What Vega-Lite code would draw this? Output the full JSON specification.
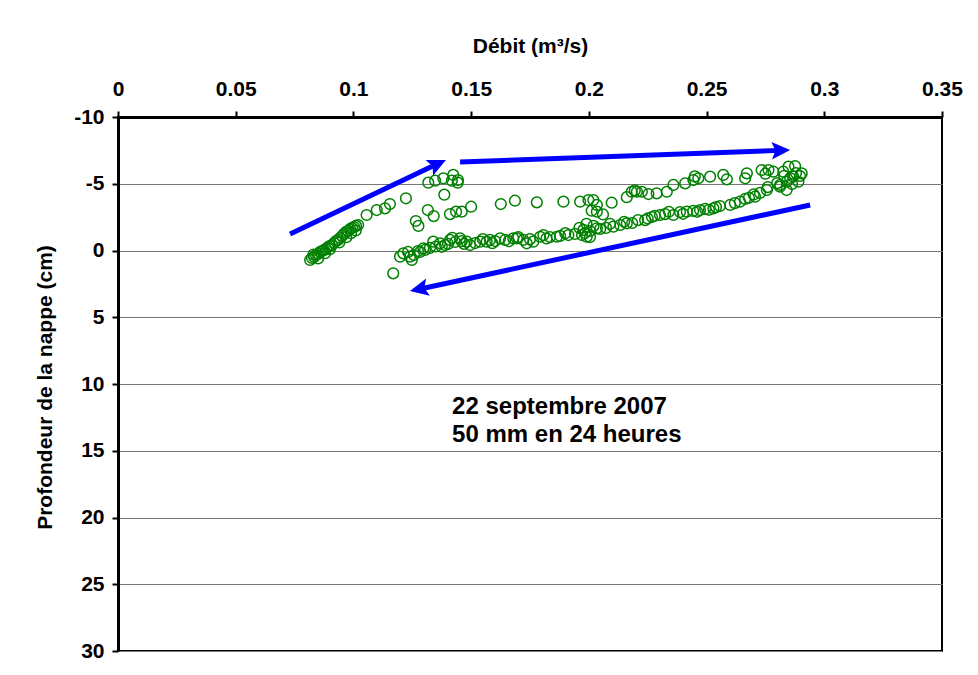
{
  "$schema": "https://vega.github.io/schema/vega-lite/v6.json",
  "width": 824,
  "height": 534,
  "autosize": {"type": "none"},
  "padding": {"left": 118, "top": 117, "right": 36, "bottom": 24},
  "background": "white",
  "config": {
    "font": "Liberation Sans",
    "view": {"stroke": "black", "strokeWidth": 2}
  },
  "datasets": {
    "obs": [
      {"q":0.0816,"p":0.71},{"q":0.0824,"p":0.56},{"q":0.0833,"p":0.49},{"q":0.0841,"p":0.34},{"q":0.0850,"p":0.26},{"q":0.0858,"p":0.11},{"q":0.0867,"p":0.04},{"q":0.0875,"p":-0.04},{"q":0.0884,"p":-0.11},{"q":0.0892,"p":-0.26},{"q":0.0901,"p":-0.34},{"q":0.0909,"p":-0.41},{"q":0.0918,"p":-0.56},{"q":0.0926,"p":-0.71},{"q":0.0935,"p":-0.79},{"q":0.0943,"p":-0.94},{"q":0.0952,"p":-1.09},{"q":0.0960,"p":-1.24},{"q":0.0969,"p":-1.39},{"q":0.0977,"p":-1.46},{"q":0.0986,"p":-1.61},{"q":0.0994,"p":-1.69},{"q":0.1003,"p":-1.76},{"q":0.1011,"p":-1.84},{"q":0.1020,"p":-1.91},
      {"q":0.083,"p":0.3},{"q":0.085,"p":0.6},{"q":0.088,"p":0.2},{"q":0.090,"p":-0.1},{"q":0.094,"p":-0.6},{"q":0.097,"p":-1.0},{"q":0.099,"p":-1.3},{"q":0.101,"p":-1.5},
      {"q":0.1056,"p":-2.66},{"q":0.1099,"p":-3.03},{"q":0.1134,"p":-3.16},{"q":0.1155,"p":-3.48},{"q":0.1223,"p":-3.91},
      {"q":0.1318,"p":-5.08},{"q":0.1347,"p":-5.23},{"q":0.1382,"p":-5.41},{"q":0.1424,"p":-5.66},{"q":0.1443,"p":-5.08},{"q":0.1418,"p":-5.23},{"q":0.1444,"p":-5.28},{"q":0.1386,"p":-4.18},
      {"q":0.1316,"p":-3.03},{"q":0.1341,"p":-2.58},{"q":0.1265,"p":-2.21},{"q":0.1276,"p":-1.84},{"q":0.1410,"p":-2.73},{"q":0.1436,"p":-2.91},{"q":0.1460,"p":-2.91},{"q":0.1500,"p":-3.28},{"q":0.1626,"p":-3.48},{"q":0.1686,"p":-3.73},{"q":0.1779,"p":-3.61},{"q":0.1892,"p":-3.66},{"q":0.1963,"p":-3.66},{"q":0.1998,"p":-3.78},{"q":0.2019,"p":-3.78},{"q":0.2034,"p":-3.41},{"q":0.2012,"p":-2.98},{"q":0.2034,"p":-2.91},{"q":0.2060,"p":-2.70},{"q":0.2097,"p":-3.58},{"q":0.2161,"p":-3.99},{"q":0.2182,"p":-4.40},{"q":0.2204,"p":-4.40},{"q":0.2225,"p":-4.40},{"q":0.2195,"p":-4.50},{"q":0.2253,"p":-4.23},{"q":0.2288,"p":-4.28},{"q":0.2331,"p":-4.40},{"q":0.2359,"p":-4.91},{"q":0.2409,"p":-5.03},{"q":0.2444,"p":-5.28},{"q":0.2465,"p":-5.41},{"q":0.2450,"p":-5.55},{"q":0.2515,"p":-5.53},{"q":0.2571,"p":-5.66},{"q":0.2586,"p":-5.33},{"q":0.2664,"p":-5.41},{"q":0.2671,"p":-5.78},{"q":0.2734,"p":-6.03},{"q":0.2763,"p":-6.03},{"q":0.2784,"p":-5.90},{"q":0.2750,"p":-5.75},{"q":0.2826,"p":-5.90},{"q":0.2848,"p":-6.28},{"q":0.2876,"p":-6.33},{"q":0.2904,"p":-5.78},{"q":0.2868,"p":-5.53},{"q":0.2840,"p":-5.15},{"q":0.2890,"p":-5.15},{"q":0.2812,"p":-4.78},{"q":0.2840,"p":-4.53},{"q":0.2855,"p":-5.43},{"q":0.2897,"p":-5.58},{"q":0.2863,"p":-4.98},{"q":0.2880,"p":-5.80},{"q":0.2830,"p":-5.60},
      {"q":0.2812,"p":-4.91},{"q":0.2756,"p":-4.53},{"q":0.2727,"p":-4.31},{"q":0.2706,"p":-4.03},{"q":0.2664,"p":-3.86},{"q":0.2642,"p":-3.66},{"q":0.2600,"p":-3.41},{"q":0.2557,"p":-3.33},{"q":0.2529,"p":-3.16},{"q":0.2494,"p":-3.11},{"q":0.2472,"p":-3.03},{"q":0.2443,"p":-2.96},{"q":0.2416,"p":-2.91},{"q":0.2387,"p":-2.88},{"q":0.2359,"p":-2.66},{"q":0.2324,"p":-2.73},{"q":0.2302,"p":-2.66},{"q":0.2268,"p":-2.51},{"q":0.2239,"p":-2.28},{"q":0.2209,"p":-2.28},{"q":0.2184,"p":-2.06},{"q":0.2161,"p":-2.04},{"q":0.2133,"p":-1.91},{"q":0.2104,"p":-1.78},{"q":0.2073,"p":-1.69},{"q":0.2048,"p":-1.61},{"q":0.2034,"p":-1.66},{"q":0.2005,"p":-1.46},{"q":0.1991,"p":-1.03},{"q":0.1977,"p":-1.54},{"q":0.1984,"p":-1.31},{"q":0.1971,"p":-1.16},{"q":0.2005,"p":-1.01},{"q":0.1941,"p":-1.24},{"q":0.1913,"p":-1.16},{"q":0.1878,"p":-1.09},{"q":0.1864,"p":-1.03},{"q":0.1835,"p":-1.01},{"q":0.1807,"p":-1.16},{"q":0.1793,"p":-1.03},{"q":0.1764,"p":-0.66},{"q":0.1736,"p":-0.54},{"q":0.1722,"p":-0.79},{"q":0.1694,"p":-0.91},{"q":0.1679,"p":-0.91},{"q":0.1644,"p":-0.79},{"q":0.1623,"p":-0.91},{"q":0.1602,"p":-0.71},{"q":0.1580,"p":-0.79},{"q":0.1566,"p":-0.66},{"q":0.1538,"p":-0.66},{"q":0.1517,"p":-0.56},{"q":0.1495,"p":-0.41},{"q":0.1481,"p":-0.66},{"q":0.1453,"p":-0.91},{"q":0.1460,"p":-0.70},{"q":0.1432,"p":-0.64},{"q":0.1410,"p":-0.79},{"q":0.1389,"p":-0.41},{"q":0.1368,"p":-0.54},{"q":0.1375,"p":-0.28},{"q":0.1339,"p":-0.66},{"q":0.1325,"p":-0.19},{"q":0.1297,"p":-0.16},{"q":0.1274,"p":0.04},{"q":0.1248,"p":0.71},{"q":0.1240,"p":0.46},{"q":0.1232,"p":0.11},{"q":0.1212,"p":0.21},{"q":0.1198,"p":0.46},{"q":0.1257,"p":0.34},{"q":0.1283,"p":0.11},{"q":0.1304,"p":-0.04},{"q":0.1169,"p":1.71},
      {"q":0.1402,"p":-0.49},{"q":0.1350,"p":-0.30},{"q":0.1420,"p":-0.95},{"q":0.1470,"p":-0.50},{"q":0.1550,"p":-0.85},{"q":0.1590,"p":-0.55},{"q":0.1660,"p":-0.70},{"q":0.1700,"p":-1.00},{"q":0.1750,"p":-0.85},{"q":0.1820,"p":-0.90},{"q":0.1900,"p":-1.30},{"q":0.1960,"p":-1.70},{"q":0.1990,"p":-2.00},{"q":0.2020,"p":-1.85},{"q":0.2090,"p":-2.00},{"q":0.2150,"p":-2.15},{"q":0.2250,"p":-2.40},{"q":0.2280,"p":-2.60},{"q":0.2340,"p":-2.90},{"q":0.2400,"p":-2.75},{"q":0.2460,"p":-2.90},{"q":0.2510,"p":-3.05},{"q":0.2540,"p":-3.25},{"q":0.2620,"p":-3.55},{"q":0.2680,"p":-3.95},{"q":0.2700,"p":-4.20},{"q":0.2760,"p":-4.75},{"q":0.2800,"p":-5.05}
    ],
    "arrows": [
      {"id":"a1","q":0.0731,"p":-1.24,"q2":0.1355,"p2":-6.48},
      {"id":"a2","q":0.1453,"p":-6.63,"q2":0.2812,"p2":-7.50},
      {"id":"a3","q":0.2940,"p":-3.41,"q2":0.1283,"p2":2.88}
    ],
    "heads": [
      {"id":"a1","q":0.1393,"p":-6.78},
      {"id":"a2","q":0.2855,"p":-7.53},
      {"id":"a3","q":0.1240,"p":3.03}
    ],
    "note": [
      {"q":0.1419,"p":11.72,"t":"22 septembre 2007"},
      {"q":0.1419,"p":13.82,"t":"50 mm en 24 heures"}
    ]
  },
  "encoding": {
    "x": {
      "field": "q", "type": "quantitative",
      "scale": {"domain": [0, 0.35], "nice": false, "zero": false},
      "axis": {
        "orient": "top",
        "title": "Débit (m³/s)",
        "values": [0, 0.05, 0.1, 0.15, 0.2, 0.25, 0.3, 0.35],
        "format": "~g",
        "grid": false,
        "domainColor": "black", "domainWidth": 3,
        "tickColor": "black", "tickWidth": 2, "tickSize": 6,
        "labelFont": "Liberation Sans", "labelFontWeight": "bold", "labelFontSize": 21, "labelColor": "black",
        "labelPadding": 12, "labelFlush": false,
        "titleFont": "Liberation Sans", "titleFontWeight": "bold", "titleFontSize": 21, "titleColor": "black",
        "titleY": -71, "titleBaseline": "middle"
      }
    },
    "y": {
      "field": "p", "type": "quantitative",
      "scale": {"domain": [-10, 30], "reverse": true, "nice": false, "zero": false},
      "axis": {
        "orient": "left",
        "title": "Profondeur de la nappe (cm)",
        "values": [-10, -5, 0, 5, 10, 15, 20, 25, 30],
        "labelExpr": "replace(datum.label, '−', '-')",
        "grid": true, "gridColor": "#777777", "gridWidth": 1,
        "domainColor": "black", "domainWidth": 3,
        "tickColor": "black", "tickWidth": 2, "tickSize": 6,
        "labelFont": "Liberation Sans", "labelFontWeight": "bold", "labelFontSize": 21, "labelColor": "black",
        "labelPadding": 8, "labelFlush": false,
        "titleFont": "Liberation Sans", "titleFontWeight": "bold", "titleFontSize": 21, "titleColor": "black",
        "titleX": -73, "titleY": 270, "titleBaseline": "middle"
      }
    }
  },
  "layer": [
    {
      "data": {"name": "obs"},
      "mark": {"type": "point", "shape": "circle", "filled": false, "stroke": "#008000", "strokeWidth": 1.5, "size": 115, "opacity": 1}
    },
    {
      "data": {"name": "arrows"},
      "mark": {"type": "rule", "stroke": "#0000FF", "strokeWidth": 5},
      "encoding": {
        "x2": {"field": "q2"},
        "y2": {"field": "p2"}
      }
    },
    {
      "data": {"name": "heads"},
      "transform": [{"filter": "datum.id == 'a1'"}],
      "mark": {"type": "point", "shape": "M0,0L-2,-0.95L-1.6,0L-2,0.95Z", "filled": true, "fill": "#0000FF", "strokeWidth": 0, "size": 340, "angle": 334.6, "opacity": 1}
    },
    {
      "data": {"name": "heads"},
      "transform": [{"filter": "datum.id == 'a2'"}],
      "mark": {"type": "point", "shape": "M0,0L-2,-0.95L-1.6,0L-2,0.95Z", "filled": true, "fill": "#0000FF", "strokeWidth": 0, "size": 340, "angle": 357.9, "opacity": 1}
    },
    {
      "data": {"name": "heads"},
      "transform": [{"filter": "datum.id == 'a3'"}],
      "mark": {"type": "point", "shape": "M0,0L-2,-0.95L-1.6,0L-2,0.95Z", "filled": true, "fill": "#0000FF", "strokeWidth": 0, "size": 340, "angle": 167.9, "opacity": 1}
    },
    {
      "data": {"name": "note"},
      "mark": {"type": "text", "align": "left", "baseline": "middle", "font": "Liberation Sans", "fontWeight": "bold", "fontSize": 24, "color": "black"},
      "encoding": {"text": {"field": "t"}}
    }
  ]
}
